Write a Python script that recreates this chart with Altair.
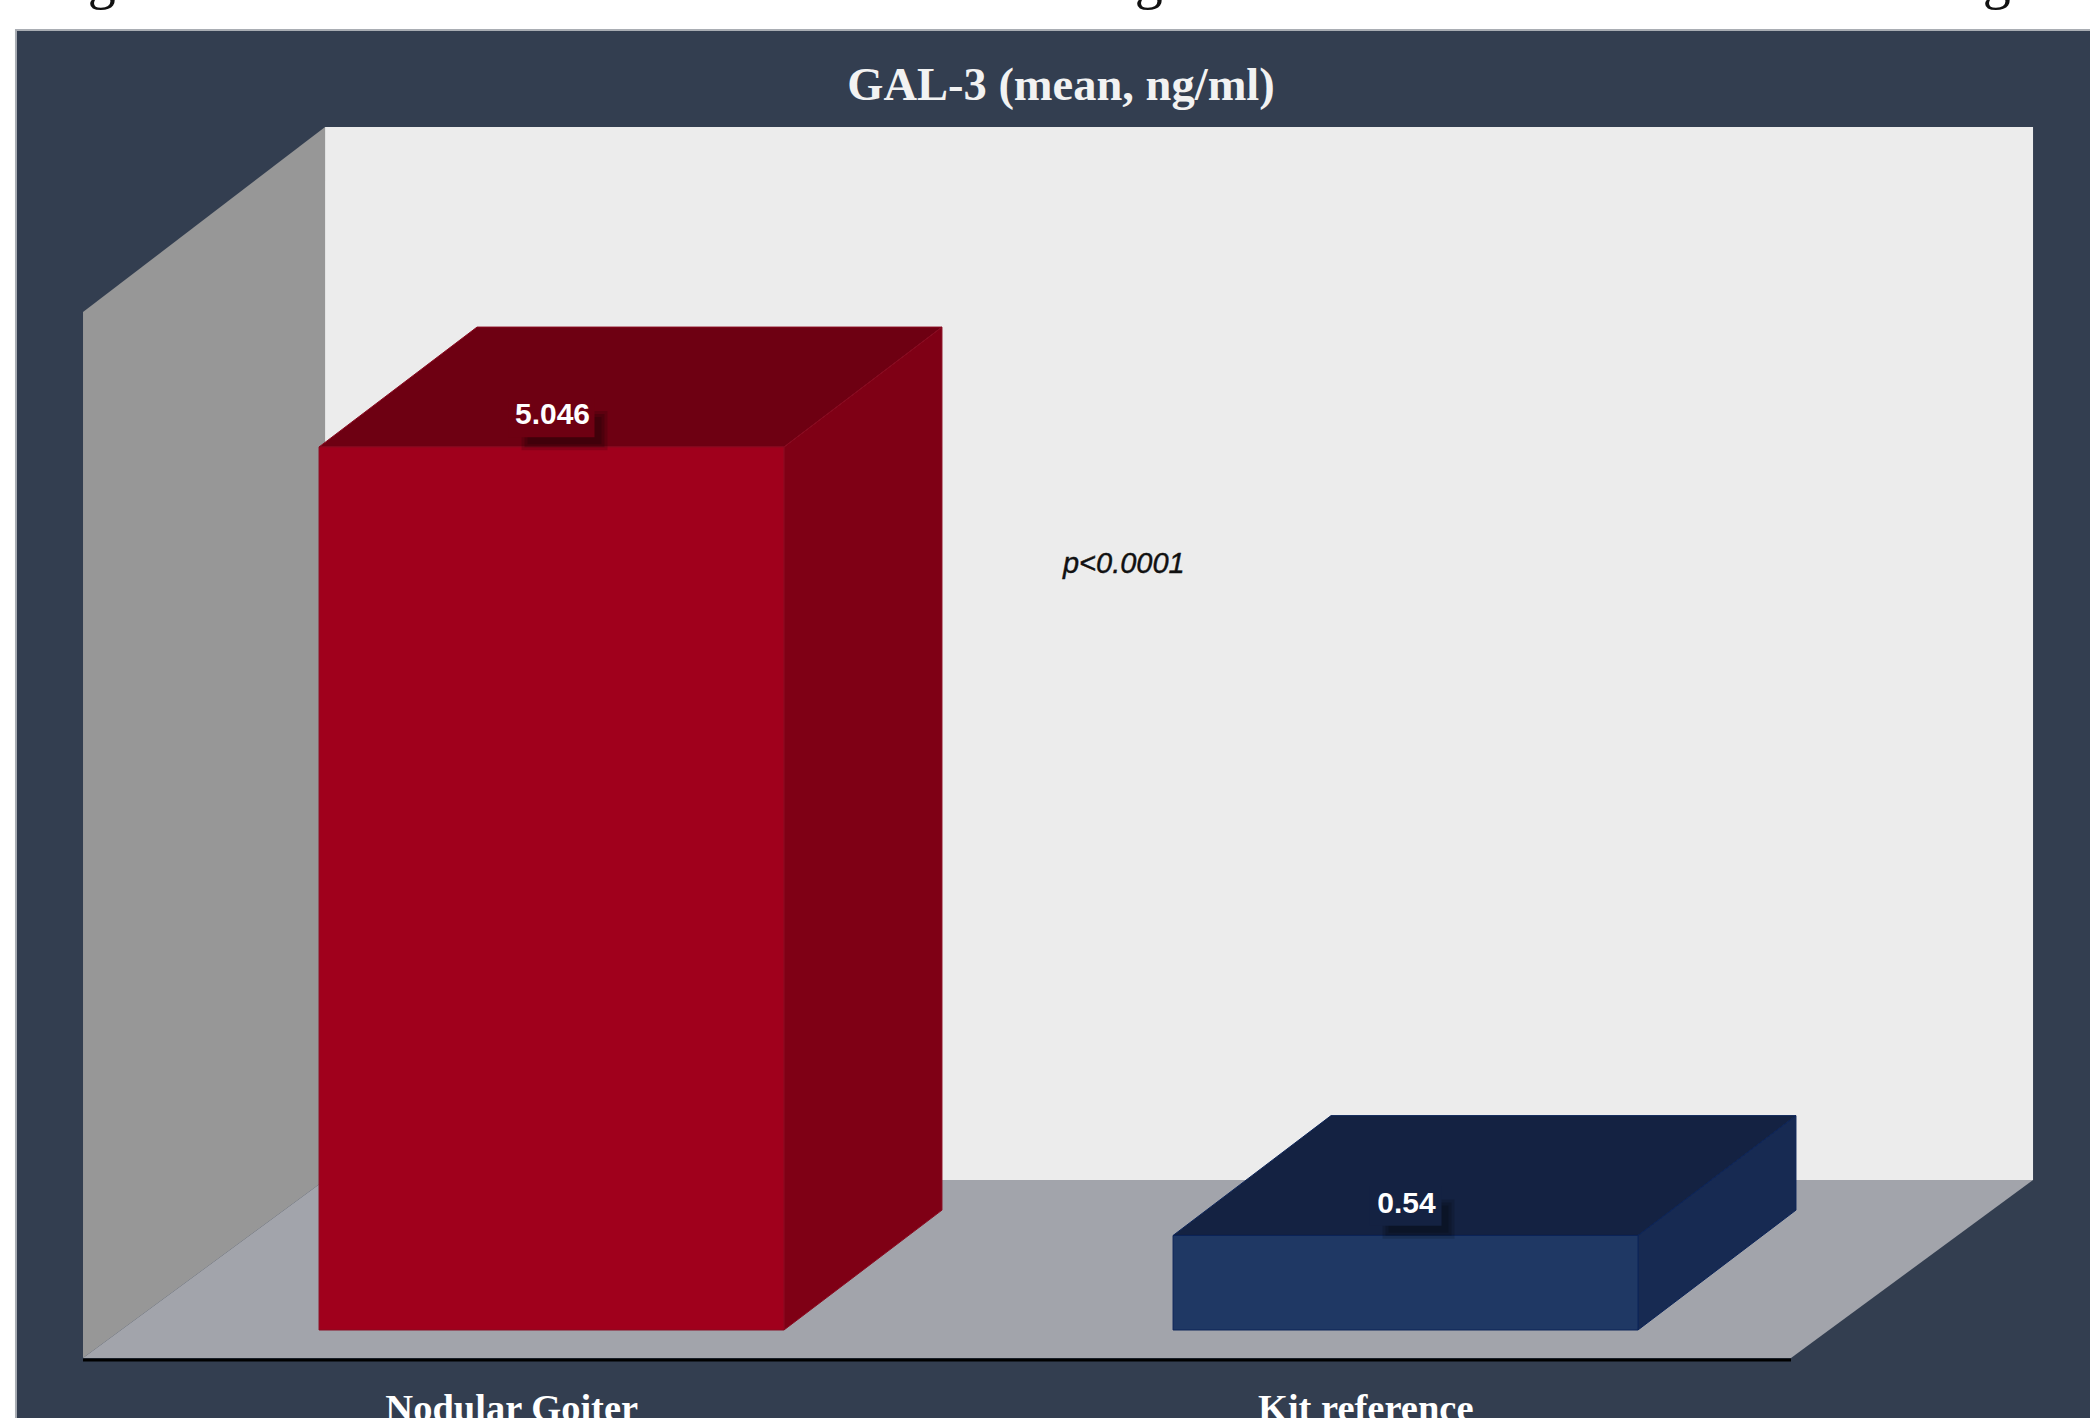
import altair as alt
import pandas as pd

# Chart content
categories = ["Nodular Goiter", "Kit reference"]
means = [5.046, 0.54]
value_labels = ["5.046", "0.54"]
title_text = "GAL-3 (mean, ng/ml)"
p_text = "p<0.0001"
face_colors = ["#a0001c", "#1f3864"]
side_colors = ["#7f0015", "#172a52"]
top_colors = ["#6e0012", "#142242"]
edge_colors = ["#8a0a20", "#0c2458"]
shadow_widths = [43, 36]

# Drawing space: x in category slots (0, 1), y in ng/ml
X_SCALE = alt.Scale(domain=[-0.5972, 1.8501], nice=False, zero=False)
Y_SCALE = alt.Scale(domain=[-0.5029, 7.6], nice=False, zero=False)
X_PER_PX = 1 / 854
Y_PER_PX = 1 / 175

FLOOR_Y = -0.16
FLOOR_BACK_DX, FLOOR_BACK_DY = 0.2834, 1.017
WALL_TOP_FRONT, WALL_TOP_BACK = 5.817, 6.874
PANEL_LEFT, PANEL_TOP = -0.5785, 7.429
BAR_SHIFT, BAR_HALF = 0.0486, 0.2722
DEPTH_X, DEPTH_Y = 0.185, 0.685

PANEL = "#333e50"
enc_x = alt.X("x:Q", scale=X_SCALE, axis=None)
enc_y = alt.Y("y:Q", scale=Y_SCALE, axis=None)


def box(x0, x1, y0, y1, **mark):
    df = pd.DataFrame({"x": [x0], "xe": [x1], "y": [y0], "ye": [y1]})
    return alt.Chart(df).mark_rect(**mark).encode(
        x=enc_x, x2=alt.X2("xe"), y=enc_y, y2=alt.Y2("ye")
    )


def upright(xs, lows, highs, **mark):
    # Face whose left and right edges are vertical
    df = pd.DataFrame({"x": xs, "y": lows, "ye": highs})
    return alt.Chart(df).mark_area(orient="vertical", **mark).encode(
        x=enc_x, y=enc_y, y2=alt.Y2("ye")
    )


def level(ys, lefts, rights, **mark):
    # Face whose top and bottom edges are horizontal
    df = pd.DataFrame({"y": ys, "x": lefts, "xe": rights})
    return alt.Chart(df).mark_area(orient="horizontal", **mark).encode(
        y=enc_y, x=enc_x, x2=alt.X2("xe")
    )


def label(x, y, text, **mark):
    df = pd.DataFrame({"x": [x], "y": [y], "t": [text]})
    return alt.Chart(df).mark_text(**mark).encode(
        x=enc_x, y=enc_y, text=alt.Text("t:N")
    )


layers = [
    # Dark panel
    box(PANEL_LEFT, 2.0, -1.0, PANEL_TOP, fill=PANEL, stroke="#a9adb3", strokeWidth=2),
    # Back wall, side wall, floor
    box(-0.5 + FLOOR_BACK_DX, 1.5 + FLOOR_BACK_DX, FLOOR_Y + FLOOR_BACK_DY, WALL_TOP_BACK, fill="#ececec"),
    upright(
        [-0.5, -0.5 + FLOOR_BACK_DX],
        [FLOOR_Y, FLOOR_Y + FLOOR_BACK_DY],
        [WALL_TOP_FRONT, WALL_TOP_BACK],
        fill="#979797",
    ),
    level(
        [FLOOR_Y, FLOOR_Y + FLOOR_BACK_DY],
        [-0.5, -0.5 + FLOOR_BACK_DX],
        [1.5, 1.5 + FLOOR_BACK_DX],
        fill="#a2a4ab",
    ),
    # Category axis line
    alt.Chart(pd.DataFrame({"x": [-0.5], "xe": [1.5], "y": [FLOOR_Y - 0.012]}))
    .mark_rule(color="#000000", strokeWidth=3)
    .encode(x=enc_x, x2=alt.X2("xe"), y=enc_y),
]

for i, (mean, text) in enumerate(zip(means, value_labels)):
    left = i + BAR_SHIFT - BAR_HALF
    right = i + BAR_SHIFT + BAR_HALF
    centre = i + BAR_SHIFT
    edge = dict(stroke=edge_colors[i], strokeWidth=1)
    layers += [
        upright(
            [right, right + DEPTH_X],
            [0, DEPTH_Y],
            [mean, mean + DEPTH_Y],
            fill=side_colors[i],
            **edge,
        ),
        level(
            [mean, mean + DEPTH_Y],
            [left, left + DEPTH_X],
            [right, right + DEPTH_X],
            fill=top_colors[i],
            **edge,
        ),
        box(left, right, 0, mean, fill=face_colors[i], **edge),
    ]
    # Value label on a plate with a soft drop shadow
    half = shadow_widths[i] * X_PER_PX
    plate_low, plate_high = mean + 0.055, mean + 0.28
    off_x, off_y = 13 * X_PER_PX, 13 * Y_PER_PX
    layers += [
        box(centre - half + off_x, centre + half + off_x, plate_low - off_y, plate_high - off_y,
            fill="#000000", opacity=0.14),
        box(centre - half + off_x + 3 * X_PER_PX, centre + half + off_x - 3 * X_PER_PX,
            plate_low - off_y + 3 * Y_PER_PX, plate_high - off_y - 3 * Y_PER_PX,
            fill="#000000", opacity=0.16),
        box(centre - half + off_x + 6 * X_PER_PX, centre + half + off_x - 6 * X_PER_PX,
            plate_low - off_y + 6 * Y_PER_PX, plate_high - off_y - 6 * Y_PER_PX,
            fill="#000000", opacity=0.16),
        box(centre - half, centre + half, plate_low, plate_high, fill=top_colors[i]),
        label(centre + 1 * X_PER_PX, mean + 0.13, text, font="Liberation Sans", fontWeight="bold",
              fontSize=30, color="#ffffff", align="center", baseline="alphabetic"),
    ]

layers.append(
    label(0.6452, 7.029, title_text, font="Liberation Serif", fontWeight="bold",
          fontSize=46.5, color="#f2f2f2", align="center", baseline="alphabetic")
)
layers.append(
    label(0.6475, 4.326, p_text, font="Liberation Sans", fontStyle="italic",
          fontSize=29, color="#111111", stroke="#111111", strokeWidth=0.4,
          align="left", baseline="alphabetic")
)
for i, name in enumerate(categories):
    layers.append(
        label(i + 0.002, -0.52, name, font="Liberation Serif", fontWeight="bold",
              fontSize=38.5, color="#ffffff", align="center", baseline="alphabetic")
    )
# Descenders of the heading line running off the top edge
for slot in [-0.478, 0.748, 1.741]:
    layers.append(
        label(slot, 7.612, "g", font="Liberation Serif", fontSize=56, color="#111111",
              align="center", baseline="alphabetic")
    )

chart = (
    alt.layer(*layers)
    .properties(width=2090, height=1418, padding=0, autosize=alt.AutoSizeParams(type="none"),
                background="#ffffff")
    .configure_view(stroke=None)
)

chart.save("out.html", embed_options={"renderer": "svg", "actions": False})
